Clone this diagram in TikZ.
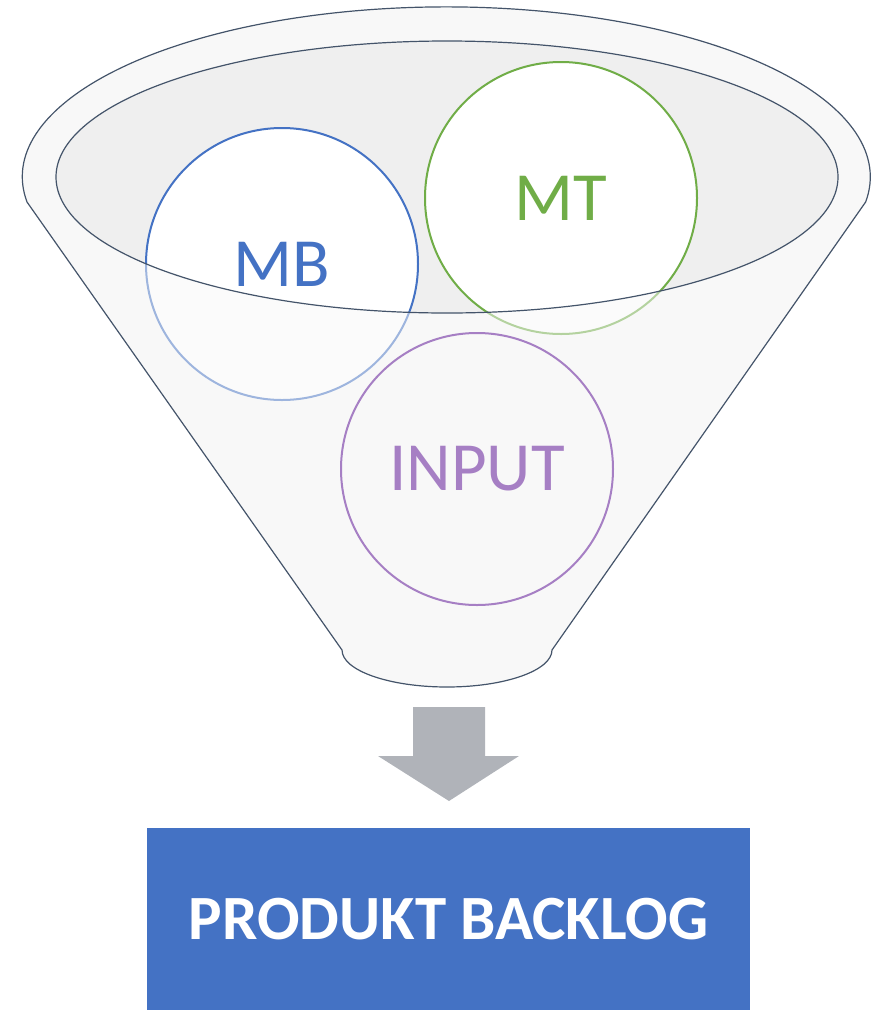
\documentclass[tikz,border=0pt]{standalone}
\usepackage{fontspec}
\setmainfont{Carlito}
\usepackage{xcolor}
\usetikzlibrary{calc}
\definecolor{funnelline}{HTML}{44546A}
\definecolor{funnelfill}{HTML}{F8F8F8}
\definecolor{mouthfill}{HTML}{EFEFEF}
\definecolor{mbblue}{HTML}{4472C4}
\definecolor{mtgreen}{HTML}{70AD47}
\definecolor{inpurple}{HTML}{A67FC4}
\definecolor{arrowgray}{HTML}{B0B3B9}

\begin{document}
\begin{tikzpicture}[x=1pt,y=-1pt]
    \tikzstyle{source} = [circle,minimum size=272pt,inner sep=0pt,line width=2pt,font=\fontsize{69}{80}\selectfont]
    \tikzstyle{funnel} = [line width=1.2pt,draw=funnelline]
    \useasboundingbox (0,0) rectangle (873,1010);
    % funnel body and mouth
    \fill[funnelfill] (27,202) arc[start angle=171.5,end angle=368.5,x radius=424,y radius=170]
      -- (552,650) arc[start angle=0,end angle=180,x radius=105,y radius=37] -- cycle;
    \fill[mouthfill] (447,177) ellipse[x radius=391,y radius=136];
    \node[source,draw=mbblue,fill=white,text=mbblue] (mb) at (282,264) {MB};
    \node[source,draw=mtgreen,fill=white,text=mtgreen] (mt) at (561,198) {MT};
    % front of the funnel fades the circles
    \fill[funnelfill,fill opacity=0.5,even odd rule] (27,202) arc[start angle=171.5,end angle=368.5,x radius=424,y radius=170]
      -- (552,650) arc[start angle=0,end angle=180,x radius=105,y radius=37] -- cycle
      (447,177) ellipse[x radius=391,y radius=136];
    \draw[funnel] (27,202) arc[start angle=171.5,end angle=368.5,x radius=424,y radius=170]
      -- (552,650) arc[start angle=0,end angle=180,x radius=105,y radius=37] -- cycle;
    \draw[funnel] (447,177) ellipse[x radius=391,y radius=136];
    \node[source,draw=inpurple,text=inpurple] (input) at (477,469) {INPUT};
    % arrow into the backlog
    \fill[arrowgray] (413,707) -- (485,707) -- (485,756) -- (519,756) -- (449,801) -- (378,756) -- (413,756) -- cycle;
    \node[fill=mbblue,minimum width=603pt,minimum height=182pt,inner sep=0pt,anchor=north west,
      text=white,font=\bfseries\fontsize{63}{70}\selectfont] (backlog) at (147,828) {PRODUKT BACKLOG};
  \end{tikzpicture}
\end{document}
